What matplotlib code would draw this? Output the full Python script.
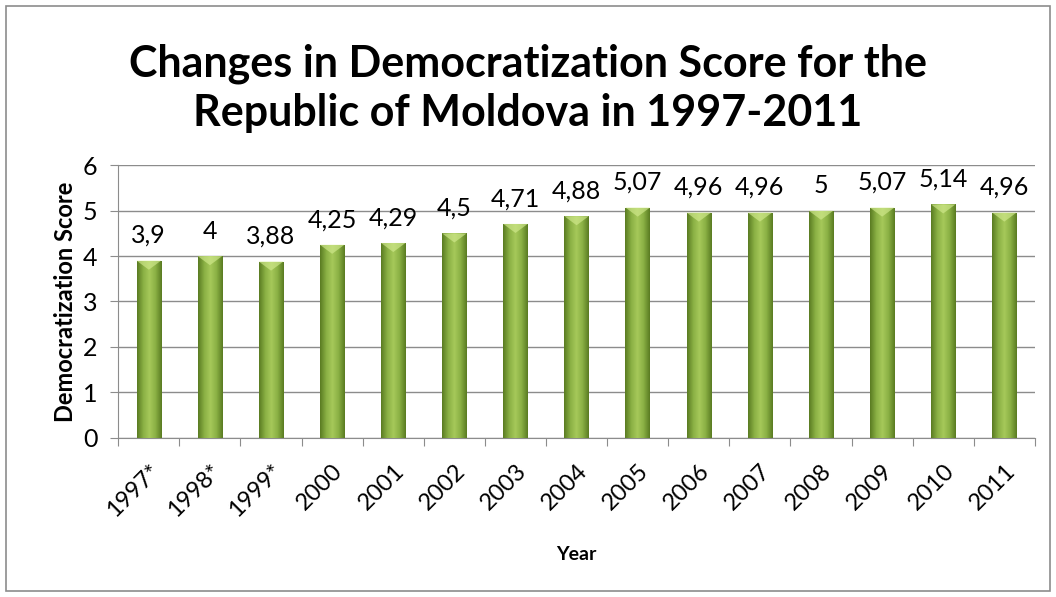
import numpy as np
import matplotlib.pyplot as plt
import matplotlib.transforms as mtransforms
from matplotlib.colors import LinearSegmentedColormap
from matplotlib.patches import Rectangle

years = ["1997*", "1998*", "1999*", "2000", "2001", "2002", "2003", "2004",
         "2005", "2006", "2007", "2008", "2009", "2010", "2011"]
scores = [3.9, 4, 3.88, 4.25, 4.29, 4.5, 4.71, 4.88,
          5.07, 4.96, 4.96, 5, 5.07, 5.14, 4.96]
labels = ["3,9", "4", "3,88", "4,25", "4,29", "4,5", "4,71", "4,88",
          "5,07", "4,96", "4,96", "5", "5,07", "5,14", "4,96"]

plt.rcParams['font.family'] = ['Lato', 'DejaVu Sans']

fig = plt.figure(figsize=(10.56, 5.97), dpi=100)
# outer chart border
fig.patches.append(Rectangle((0.006, 0.01), 0.988, 0.98, transform=fig.transFigure,
                             fill=False, edgecolor='#8c8c8c', linewidth=1.2))

ax = fig.add_axes([0.112, 0.267, 0.868, 0.456])
x = np.arange(len(years))
width = 0.4
bars = ax.bar(x, scores, width=width, color='#8db04a', edgecolor='none', zorder=2)

# cylinder-like shading across each bar
cmap = LinearSegmentedColormap.from_list('green', ['#5a7c22', '#8ab044', '#a6c95a', '#8ab044', '#5a7c22'])
grad = np.linspace(0, 1, 64).reshape(1, -1)
for b in bars:
    x0, w, h = b.get_x(), b.get_width(), b.get_height()
    im = ax.imshow(grad, cmap=cmap, aspect='auto', extent=(x0, x0 + w, 0, h), zorder=3)
    im.set_clip_path(b)
    # light bevel at the top of the bar
    ax.fill([x0, x0 + w, x0 + w / 2], [h, h, h - 0.2], color='#d2ea8e', alpha=0.65,
            zorder=4, linewidth=0)

for xi, s, lab in zip(x, scores, labels):
    ax.text(xi, s + 0.3, lab, ha='center', va='bottom', fontsize=18)

ax.set_xlim(-0.5, len(years) - 0.5)
ax.set_ylim(0, 6)
ax.set_yticks(range(7))
ax.set_xticks(np.arange(-0.5, len(years), 1))
ax.set_xticklabels([])
ax.set_xticks(x, minor=True)
ax.set_xticklabels(years, minor=True, rotation=45, ha='right', rotation_mode='anchor', fontsize=17)
shift = mtransforms.ScaledTranslation(6 / 100, 0, fig.dpi_scale_trans)
for t in ax.get_xticklabels(minor=True):
    t.set_transform(t.get_transform() + shift)
ax.tick_params(axis='x', which='minor', length=0, pad=16)
ax.tick_params(axis='x', which='major', length=6, color='#8c8c8c')
ax.tick_params(axis='y', length=6, color='#8c8c8c', labelsize=18, pad=9)
ax.grid(axis='y', color='#8c8c8c', linewidth=1, zorder=0)
ax.set_axisbelow(True)
for side in ['top', 'right']:
    ax.spines[side].set_visible(False)
ax.spines['left'].set_color('#8c8c8c')
ax.spines['bottom'].set_color('#8c8c8c')

ax.set_ylabel("Democratization Score", fontsize=17, fontweight='bold', labelpad=4)
ax.set_xlabel("Year", fontsize=14, fontweight='bold', labelpad=18)

fig.text(0.5, 0.852, "Changes in Democratization Score for the\nRepublic of Moldova in 1997-2011",
         ha='center', va='center', fontsize=31, fontweight='bold', linespacing=1.25)

fig.savefig('out.png', dpi=100)
